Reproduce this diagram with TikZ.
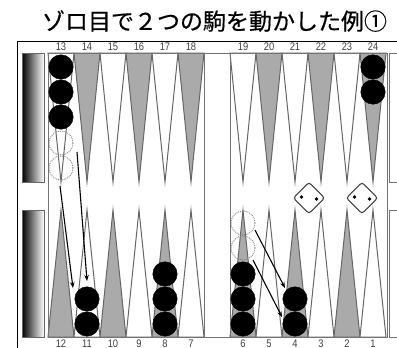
\documentclass[tikz,border=0pt]{standalone}
\usepackage{fontspec}
\usetikzlibrary{arrows.meta}
\newfontfamily\cjk[FakeBold=0.5]{Noto Sans CJK JP}
\newfontfamily\numfont[FakeStretch=0.85]{Liberation Sans}
\begin{document}
\begin{tikzpicture}[x=1pt,y=-1pt,
  tri/.style={draw=black!60, line width=1pt, line join=miter},
  wtri/.style={tri, fill=white},
  gtri/.style={tri, fill=gray!67},
  checker/.style={circle, fill=black, draw=black, inner sep=0pt, minimum size=24.5pt},
  ghost/.style={circle, draw=black!50, densely dotted, line width=0.9pt, inner sep=0pt, minimum size=24pt},
  die/.style={draw=black!75, line width=1.1pt, rounded corners=2.5pt, fill=white, inner sep=0pt, minimum size=22pt, rotate=45},
  pip/.style={circle, fill=black, inner sep=0pt, minimum size=3.6pt},
  move/.style={-{Stealth[length=6pt,width=4.5pt]}, line width=1.1pt},
  num/.style={font=\numfont\fontsize{11}{11}\selectfont, text=black!75, inner sep=0pt},
  tray/.style={draw=black!60, line width=0.7pt, left color=black, right color=white},
  frame/.style={draw=black!55, line width=0.9pt}]
\useasboundingbox (0,0) rectangle (397,348);
\clip (0,0) rectangle (397,348);
% title
\node (title) at (214.5,21) {\cjk\fontsize{23}{24}\selectfont ゾロ目で２つの駒を動かした例①};
% outer frame
\draw[line width=1pt] (17,349) -- (17,41) -- (398,41);
% left trays
\shade[tray] (22,53) rectangle (44,182);
\shade[tray] (22,210) rectangle (44,337);
% right trays
\draw[frame] (389.5,53) rectangle (400,182);
\draw[frame] (389.5,210) rectangle (400,337);
% triangles
\foreach \x in {48,100,152,230,282,334} \draw[wtri] (\x,53) -- (\x+13,182) -- (\x+26,53) -- cycle;
\foreach \x in {74,126,178,256,308,360} \draw[gtri] (\x,53) -- (\x+13,182) -- (\x+26,53) -- cycle;
\foreach \x in {48,100,152,230,282,334} \draw[gtri] (\x,337) -- (\x+13,210) -- (\x+26,337) -- cycle;
\foreach \x in {74,126,178,256,308,360} \draw[wtri] (\x,337) -- (\x+13,210) -- (\x+26,337) -- cycle;
% board frame
\draw[frame] (48,53) rectangle (387,337);
\draw[frame] (204,53) -- (204,337);
\draw[frame] (230,53) -- (230,337);
% numbers
\foreach \n [count=\i from 0] in {13,14,15,16,17,18} \node[num] (t\n) at (61+26*\i,47) {\n};
\foreach \n [count=\i from 0] in {19,20,21,22,23,24} \node[num] (t\n) at (243+26*\i,47) {\n};
\foreach \n [count=\i from 0] in {12,11,10,9,8,7} \node[num] (b\n) at (61+26*\i,344) {\n};
\foreach \n [count=\i from 0] in {6,5,4,3,2,1} \node[num] (b\n) at (243+26*\i,344) {\n};
% checkers
\node[checker] (c13a) at (61,67) {};
\node[checker] (c13b) at (61,92) {};
\node[checker] (c13c) at (61,117) {};
\node[ghost] (g13a) at (61,143) {};
\node[ghost] (g13b) at (61,168) {};
\node[checker] (c24a) at (373,67) {};
\node[checker] (c24b) at (373,92) {};
\node[checker] (c11a) at (87,299) {};
\node[checker] (c11b) at (87,324) {};
\node[checker] (c8a) at (165,274) {};
\node[checker] (c8b) at (165,299) {};
\node[checker] (c8c) at (165,324) {};
\node[ghost] (g6a) at (243,223) {};
\node[ghost] (g6b) at (243,248) {};
\node[checker] (c6a) at (243,274) {};
\node[checker] (c6b) at (243,299) {};
\node[checker] (c6c) at (243,324) {};
\node[checker] (c4a) at (295,299) {};
\node[checker] (c4b) at (295,324) {};
% dice
\node[die] (d1) at (309,198) {};
\node[pip] (d1p1) at (301.5,197) {};
\node[pip] (d1p2) at (316.5,199) {};
\node[die] (d2) at (362,198) {};
\node[pip] (d2p1) at (354.5,197) {};
\node[pip] (d2p2) at (369.5,199) {};
% move arrows
\coordinate (sA) at (60,186);
\coordinate (eA) at (73,288);
\coordinate (sB) at (77,152);
\coordinate (eB) at (87,281);
\coordinate (sC) at (255,230);
\coordinate (eC) at (285,288);
\coordinate (sD) at (253,260);
\coordinate (eD) at (282,317);
\draw[move] (sA) -- (eA);
\draw[move] (sB) -- (eB);
\draw[move] (sC) -- (eC);
\draw[move] (sD) -- (eD);
\end{tikzpicture}
\end{document}
